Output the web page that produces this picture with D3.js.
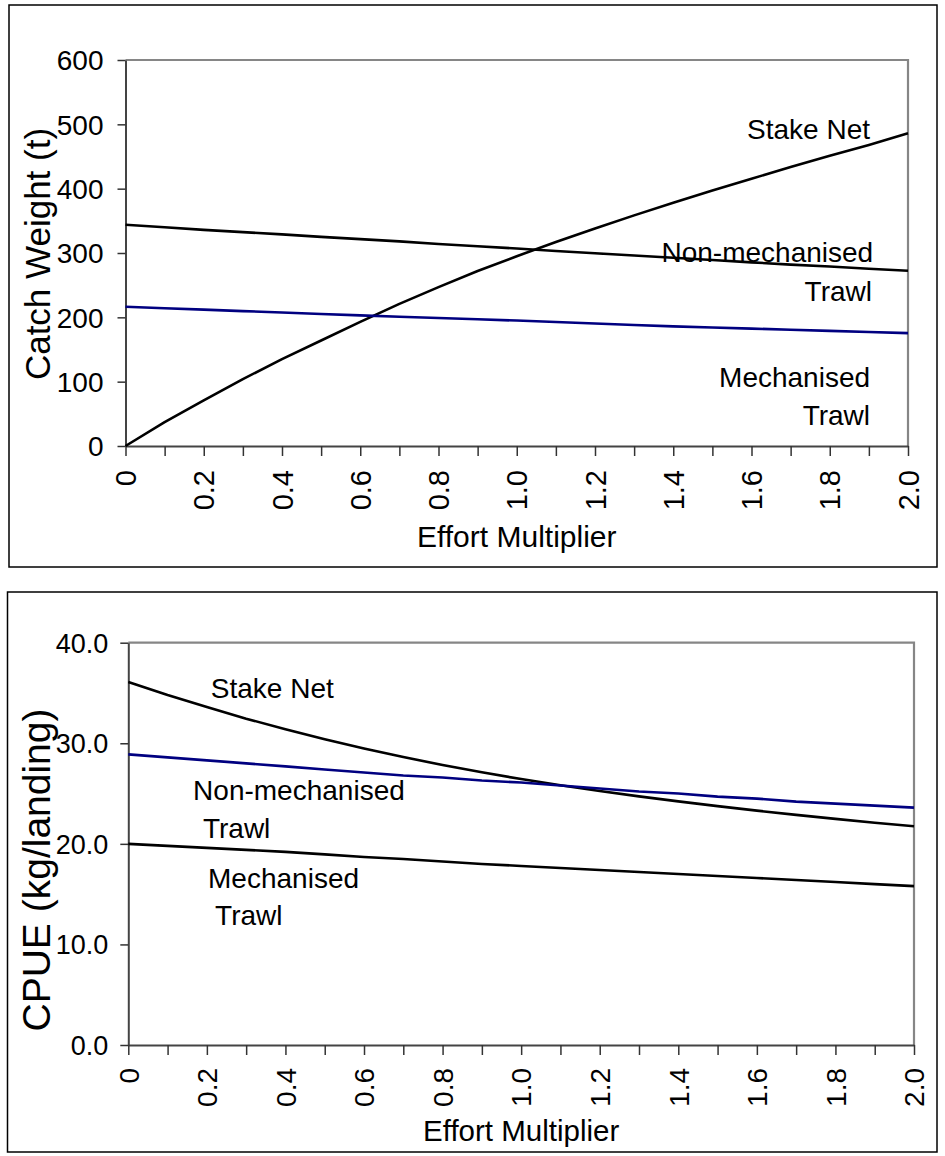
<!DOCTYPE html>
<html>
<head>
<meta charset="utf-8">
<script src="https://cdn.jsdelivr.net/npm/d3@7"></script>
<style>
  html, body { margin: 0; padding: 0; background: #fff; }
  svg { display: block; font-family: "Liberation Sans", Arial, sans-serif; }
</style>
</head>
<body>
<div id="chart"></div>
<script>
// effort multiplier steps (shared by both panels)
const effort = d3.range(21).map(i => i / 10);

// top panel: catch weight (t)
const catchStakeNet = [0, 37, 71, 104, 135, 164, 193, 221, 247, 272, 295, 317, 338, 358.5, 378, 397, 415.5, 433.5, 451, 468, 486];
const catchNonMech = [344, 340, 336, 332.5, 329, 325, 321.5, 318, 314, 310.5, 307, 303, 299.5, 296, 292.5, 289, 285.5, 282, 279, 275.5, 272.5];
const catchMech = [216.5, 214.2, 212, 209.7, 207.5, 205.2, 203, 201, 199, 197, 195, 192.7, 190.5, 188.2, 186, 184.2, 182.5, 180.7, 179, 177.2, 175.5];
const catchTicks = [0, 100, 200, 300, 400, 500, 600];

// bottom panel: CPUE (kg/landing)
const cpueStakeNet = [36.1, 34.8, 33.6, 32.45, 31.4, 30.4, 29.48, 28.63, 27.84, 27.11, 26.44, 25.82, 25.25, 24.72, 24.22, 23.75, 23.3, 22.88, 22.48, 22.1, 21.75];
const cpueBlue = [28.9, 28.6, 28.3, 28.0, 27.7, 27.4, 27.1, 26.8, 26.6, 26.3, 26.1, 25.8, 25.5, 25.2, 25.0, 24.7, 24.5, 24.2, 24.0, 23.8, 23.6];
const cpueMech = [20.0, 19.8, 19.6, 19.4, 19.2, 18.95, 18.7, 18.5, 18.25, 18.0, 17.8, 17.6, 17.4, 17.2, 17.0, 16.8, 16.6, 16.4, 16.2, 16.0, 15.8];
const cpueTicks = [0, 10, 20, 30, 40];

// series label text, anchored in data units [effort, value]
const catchLabels = [
  {text: "Stake Net", at: [1.903, 477]},
  {text: "Non-mechanised", at: [1.911, 286]},
  {text: "Trawl", at: [1.908, 225]},
  {text: "Mechanised", at: [1.903, 92]},
  {text: "Trawl", at: [1.903, 33]}
];
const cpueLabels = [
  {text: "Stake Net", at: [0.21, 34.5]},
  {text: "Non-mechanised", at: [0.165, 24.4]},
  {text: "Trawl", at: [0.19, 20.6]},
  {text: "Mechanised", at: [0.203, 15.6]},
  {text: "Trawl", at: [0.221, 11.9]}
];

const width = 945, height = 1156;
const svg = d3.select("#chart").append("svg")
    .attr("width", width)
    .attr("height", height)
    .attr("viewBox", [0, 0, width, height]);

function drawPanel(p) {
  const g = svg.append("g");

  // outer box
  g.append("rect")
      .attr("x", p.box[0]).attr("y", p.box[1])
      .attr("width", p.box[2]).attr("height", p.box[3])
      .attr("fill", "none").attr("stroke", "#000").attr("stroke-width", 1.5);

  const x = d3.scaleLinear().domain([0, 2]).range([p.left, p.right]);
  const y = d3.scaleLinear().domain(p.yDomain).range([p.bottom, p.top]);

  // grey frame on top and right
  g.append("path")
      .attr("d", `M${x(0)},${y(p.yDomain[1])}H${x(2)}V${y(0)}`)
      .attr("fill", "none").attr("stroke", "#868686").attr("stroke-width", 2.2);

  // y axis
  const yAxis = g.append("g")
      .attr("transform", `translate(${x(0)},0)`)
      .call(d3.axisLeft(y).tickValues(p.yTicks).tickFormat(p.yFormat).tickSize(8).tickSizeOuter(0).tickPadding(p.yPad));
  yAxis.select(".domain").attr("stroke", "#444").attr("stroke-width", 2);
  yAxis.selectAll(".tick line").attr("stroke", "#333").attr("stroke-width", 1.5);
  yAxis.selectAll("text")
      .attr("fill", "#000")
      .style("font-size", p.tickFont + "px")
      .style("font-family", "Liberation Sans, Arial, sans-serif")
      .attr("dy", "0.35em");

  // x axis, ticks every 0.1, labels every 0.2
  const xAxis = g.append("g")
      .attr("transform", `translate(0,${y(0)})`)
      .call(d3.axisBottom(x).tickValues(effort).tickSize(10).tickSizeOuter(0)
        .tickFormat((d, i) => i % 2 ? "" : (d === 0 ? "0" : d3.format(".1f")(d))));
  xAxis.select(".domain").attr("stroke", "#444").attr("stroke-width", 2);
  xAxis.selectAll(".tick line").attr("stroke", "#333").attr("stroke-width", 1.5);
  xAxis.selectAll("text")
      .attr("fill", "#000")
      .style("font-size", p.xTickFont + "px")
      .style("font-family", "Liberation Sans, Arial, sans-serif")
      .attr("transform", "rotate(-90)")
      .attr("text-anchor", "end")
      .attr("x", -p.xPad)
      .attr("y", 0)
      .attr("dy", "0.35em");

  // lines
  const line = d3.line().x((d, i) => x(effort[i])).y(d => y(d));
  g.append("g")
      .attr("fill", "none")
      .attr("stroke-width", 2.6)
      .attr("stroke-linejoin", "round")
      .selectAll("path")
      .data(p.series)
      .join("path")
      .attr("stroke", d => d.color)
      .attr("d", d => line(d.values));

  // series labels
  g.append("g")
      .selectAll("text")
      .data(p.labels)
      .join("text")
      .attr("x", d => x(d.at[0]))
      .attr("y", d => y(d.at[1]))
      .attr("text-anchor", p.labelAnchor)
      .style("font-size", p.labelFont + "px")
      .text(d => d.text);

  // axis titles
  g.append("text")
      .attr("x", (x(0) + x(2)) / 2)
      .attr("y", p.xTitleY)
      .attr("text-anchor", "middle")
      .style("font-size", p.xTitleFont + "px")
      .text("Effort Multiplier");

  g.append("text")
      .attr("transform", `translate(${p.yTitleX},${p.yTitleMid}) rotate(-90)`)
      .attr("text-anchor", "middle")
      .style("font-size", p.yTitleFont + "px")
      .text(p.yTitle);
}

drawPanel({
  box: [9, 5, 928, 562],
  left: 125.5, right: 908, top: 60, bottom: 446,
  yDomain: [0, 600], yTicks: catchTicks, yFormat: d3.format("d"), yPad: 14,
  tickFont: 28, xTickFont: 29, xPad: 24,
  series: [
    {name: "Stake Net", color: "#000", values: catchStakeNet},
    {name: "Non-mechanised Trawl", color: "#000", values: catchNonMech},
    {name: "Mechanised Trawl", color: "#000080", values: catchMech}
  ],
  labels: catchLabels, labelAnchor: "end", labelFont: 28,
  xTitleY: 547, xTitleFont: 30,
  yTitle: "Catch Weight (t)", yTitleX: 50, yTitleMid: 254, yTitleFont: 35
});

drawPanel({
  box: [7.5, 592, 929.5, 560],
  left: 128.3, right: 914, top: 642.7, bottom: 1045,
  yDomain: [0, 40], yTicks: cpueTicks, yFormat: d3.format(".1f"), yPad: 12,
  tickFont: 27, xTickFont: 28, xPad: 23,
  series: [
    {name: "Stake Net", color: "#000", values: cpueStakeNet},
    {name: "Non-mechanised Trawl", color: "#000080", values: cpueBlue},
    {name: "Mechanised Trawl", color: "#000", values: cpueMech}
  ],
  labels: cpueLabels, labelAnchor: "start", labelFont: 28,
  xTitleY: 1141, xTitleFont: 29.5,
  yTitle: "CPUE (kg/landing)", yTitleX: 50, yTitleMid: 870, yTitleFont: 39
});
</script>
</body>
</html>
